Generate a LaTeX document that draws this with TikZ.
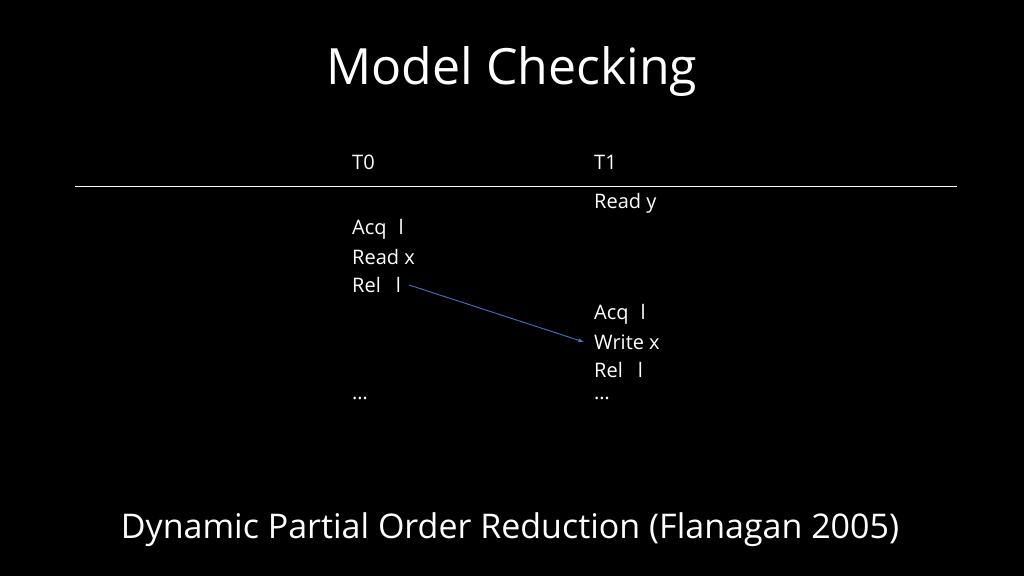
\documentclass[tikz,border=0pt]{standalone}
\usepackage{fontspec}
\setmainfont{Open Sans}
\begin{document}
\begin{tikzpicture}[x=1pt,y=-1pt,
  txt/.style={text=white,anchor=west,inner sep=0pt,font=\fontsize{20}{24}\selectfont}]
\fill[black] (0,0) rectangle (1024,576);
\useasboundingbox (0,0) rectangle (1024,576);
\node[text=white,font=\fontsize{50}{60}\selectfont] (title) at (512,72) {Model Checking};
\node[txt] (t0) at (352,162) {T0};
\node[txt] (t1) at (594,162) {T1};
\coordinate (la) at (75,186); \coordinate (lb) at (957,186);
\draw[white,line width=1pt] (la) -- (lb);
\node[txt] (ry) at (594,203) {Read y};
\node[txt] (acq0) at (352,229) {Acq\hspace{12pt}l};
\node[txt] (rx) at (352,257) {Read x};
\node[txt] (rel0) at (352,285) {Rel\hspace{15pt}l};
\node[txt] (acq1) at (594,314) {Acq\hspace{12pt}l};
\node[txt] (wx) at (594,342) {Write x};
\node[txt] (rel1) at (594,370) {Rel\hspace{15pt}l};
\node[txt] (d0) at (352,398) {\dots};
\node[txt] (d1) at (594,398) {\dots};
\draw[-latex,color={rgb,255:red,68;green,114;blue,196},line width=0.9pt] ([xshift=8pt]rel0.east) -- ([xshift=-10pt]wx.west);
\node[text=white,font=\fontsize{34}{40}\selectfont] (foot) at (510,530) {Dynamic Partial Order Reduction (Flanagan 2005)};
\end{tikzpicture}
\end{document}
